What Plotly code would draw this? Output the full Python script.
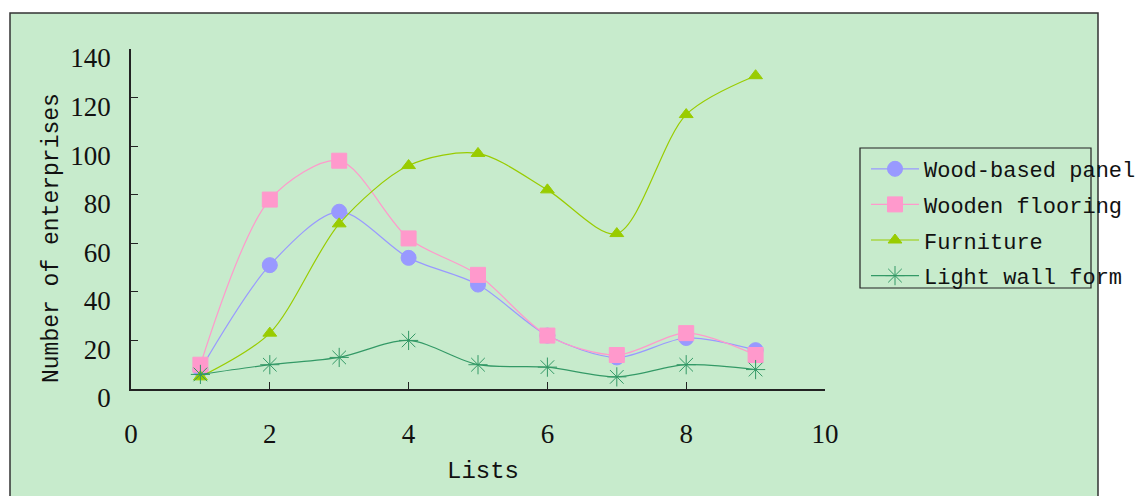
import plotly.graph_objects as go

# Number of enterprises per list, by product category
lists = [1, 2, 3, 4, 5, 6, 7, 8, 9]
wood_based_panel = [8, 51, 73, 54, 43, 22, 13, 21, 16]
wooden_flooring = [10, 78, 94, 62, 47, 22, 14, 23, 14]
furniture = [5, 23, 68, 92, 97, 82, 64, 113, 129]
light_wall_form = [6, 10, 13, 20, 10, 9, 5, 10, 8]

x_ticks = [0, 2, 4, 6, 8, 10]
y_ticks = [0, 20, 40, 60, 80, 100, 120, 140]

W, H = 1139, 496
L, R, T, B = 131, 314, 49, 107
PW, PH = W - L - R, H - T - B


def px(xp):
    return (xp - L) / PW


def py(yp):
    return (H - B - yp) / PH


TEXT_FONT = "Liberation Mono, DejaVu Sans Mono, monospace"
NUM_FONT = "Liberation Serif, DejaVu Serif, serif"

series = [
    ("Wood-based panel", wood_based_panel, "#9999FF", "circle", 15),
    ("Wooden flooring", wooden_flooring, "#FF99CC", "square", 15),
    ("Furniture", furniture, "#99CC00", "triangle-up", 12),
    ("Light wall form", light_wall_form, "#339966", "asterisk-open", 16),
]

fig = go.Figure()
for name, vals, color, symbol, size in series:
    fig.add_trace(go.Scatter(
        x=lists, y=vals, name=name, legendgroup=name,
        mode="lines+markers",
        line=dict(color=color, width=1.2, shape="spline", smoothing=0.85),
        marker=dict(symbol=symbol, size=size, color=color,
                    line=dict(color=color, width=1)),
        cliponaxis=False,
    ))

fig.update_layout(
    width=W, height=H,
    margin=dict(l=L, r=R, t=T, b=B, autoexpand=False),
    paper_bgcolor="white",
    plot_bgcolor="rgba(0,0,0,0)",
    showlegend=True,
    legend=dict(
        x=px(866), y=py(148), xanchor="left", yanchor="top",
        bgcolor="rgba(0,0,0,0)", borderwidth=0,
        font=dict(family=TEXT_FONT, size=22, color="#111111"),
        tracegroupgap=4, itemwidth=48,
    ),
    xaxis=dict(
        range=[0, 10], tickvals=x_ticks, ticks="inside", ticklen=7,
        tickcolor="#222222", showline=True, linecolor="#222222", linewidth=1.5,
        showgrid=False, zeroline=False, ticklabelstandoff=20,
        tickfont=dict(family=NUM_FONT, size=27, color="#111111"),
    ),
    yaxis=dict(
        range=[0, 140], tickvals=y_ticks, ticks="inside", ticklen=7,
        tickcolor="#222222", showline=True, linecolor="#222222", linewidth=1.5,
        showgrid=False, zeroline=False, ticklabelstandoff=13, ticklabelshift=9,
        tickfont=dict(family=NUM_FONT, size=27, color="#111111"),
    ),
    shapes=[
        # chart area background with its frame
        dict(type="rect", xref="paper", yref="paper", layer="below",
             x0=px(10), x1=px(1098), y0=py(13), y1=py(520),
             fillcolor="#C7EBCC", line=dict(color="#333333", width=1.5)),
        # legend frame
        dict(type="rect", xref="paper", yref="paper", layer="above",
             x0=px(860), x1=px(1091), y0=py(288), y1=py(148),
             fillcolor="rgba(0,0,0,0)", line=dict(color="#222222", width=1.2)),
    ],
    annotations=[
        dict(text="Lists", xref="paper", yref="paper", x=px(483), y=py(471),
             showarrow=False, xanchor="center", yanchor="middle",
             font=dict(family=TEXT_FONT, size=24, color="#111111")),
        dict(text="Number of enterprises", xref="paper", yref="paper",
             x=px(52), y=py(238), textangle=-90, showarrow=False,
             xanchor="center", yanchor="middle",
             font=dict(family=TEXT_FONT, size=23, color="#111111")),
    ],
)

fig.write_html("out.html")
